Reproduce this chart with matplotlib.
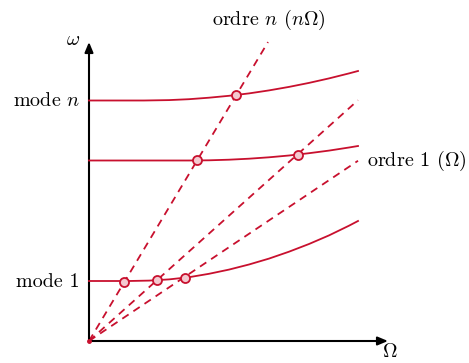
import numpy as np
import matplotlib
matplotlib.use("Agg")
import matplotlib.pyplot as plt

plt.rcParams['font.family'] = 'serif'
plt.rcParams['font.serif'] = ['cmr10', 'DejaVu Serif']
plt.rcParams['mathtext.fontset'] = 'cm'

RED = '#C8102E'
PINK = '#F4C9D0'

# Mode curves (Omega, omega)
mode1_x = [0, 20, 40, 60, 80, 100, 120, 140, 160, 180, 200, 220, 240, 260, 269]
mode1_y = [60, 60, 60, 60.4, 61.6, 63.8, 67.2, 71.4, 76.5, 82.4, 89.3, 97, 105.6, 115.3, 120]
mode2_x = [0, 50, 100, 120, 140, 160, 180, 200, 220, 240, 260, 269]
mode2_y = [180.5, 180.5, 180.5, 180.7, 181.3, 182.3, 183.7, 185.5, 187.8, 190.4, 193.5, 195]
moden_x = [0, 30, 55, 80, 100, 120, 140, 160, 180, 200, 220, 240, 260, 269]
moden_y = [240.5, 240.5, 240.5, 240.9, 241.8, 243.3, 245.2, 247.6, 250.6, 254.1, 258.1, 262.6, 267.6, 270]

# Order lines (slopes) and their end Omega
order_slopes = [1.67, 0.895, 0.67]
order_ends = [179, 269, 269]

# Intersection markers
pts_x = [35, 68, 96, 108, 209, 147]
pts_y = [59.5, 61, 63.5, 180.6, 186.5, 246]

fig = plt.figure(figsize=(4.69, 3.63), dpi=100)
ax = fig.add_axes([0, 0, 1, 1])
ax.set_xlim(-89, 380)
ax.set_ylim(-22, 341)
ax.axis('off')

# axes arrows
ax.annotate('', xy=(299, 0), xytext=(0, 0),
            arrowprops=dict(arrowstyle='-|>,head_length=0.6,head_width=0.25', color='black', lw=1.5,
                            shrinkA=0, shrinkB=0))
ax.annotate('', xy=(0, 299), xytext=(0, 0),
            arrowprops=dict(arrowstyle='-|>,head_length=0.6,head_width=0.25', color='black', lw=1.5,
                            shrinkA=0, shrinkB=0))

for xs, ys in [(mode1_x, mode1_y), (mode2_x, mode2_y), (moden_x, moden_y)]:
    ax.plot(xs, ys, color=RED, lw=1.3, zorder=3, solid_joinstyle='round')

for s, e in zip(order_slopes, order_ends):
    ax.plot([0, e], [0, s * e], color=RED, lw=1.3, ls=(0, (4.2, 3.2)), zorder=2)

ax.plot(pts_x, pts_y, 'o', ms=6.5, mfc=PINK, mec=RED, mew=1.3, zorder=4, ls='none')
ax.plot([0], [0], 'o', ms=2.5, color=RED, zorder=5)

fs = 14.5
ax.text(-9, 240.5, 'mode $n$', ha='right', va='center', fontsize=fs)
ax.text(-9, 59, 'mode 1', ha='right', va='center', fontsize=fs)
ax.text(-9, 301, r'$\omega$', ha='right', va='center', fontsize=fs)
ax.text(301, -11, r'$\Omega$', ha='center', va='center', fontsize=fs)
ax.text(180, 321, r'ordre $n$ ($n\Omega$)', ha='center', va='center', fontsize=fs)
ax.text(278, 180, r'ordre 1 ($\Omega$)', ha='left', va='center', fontsize=fs)

fig.savefig('out.png', dpi=100)
